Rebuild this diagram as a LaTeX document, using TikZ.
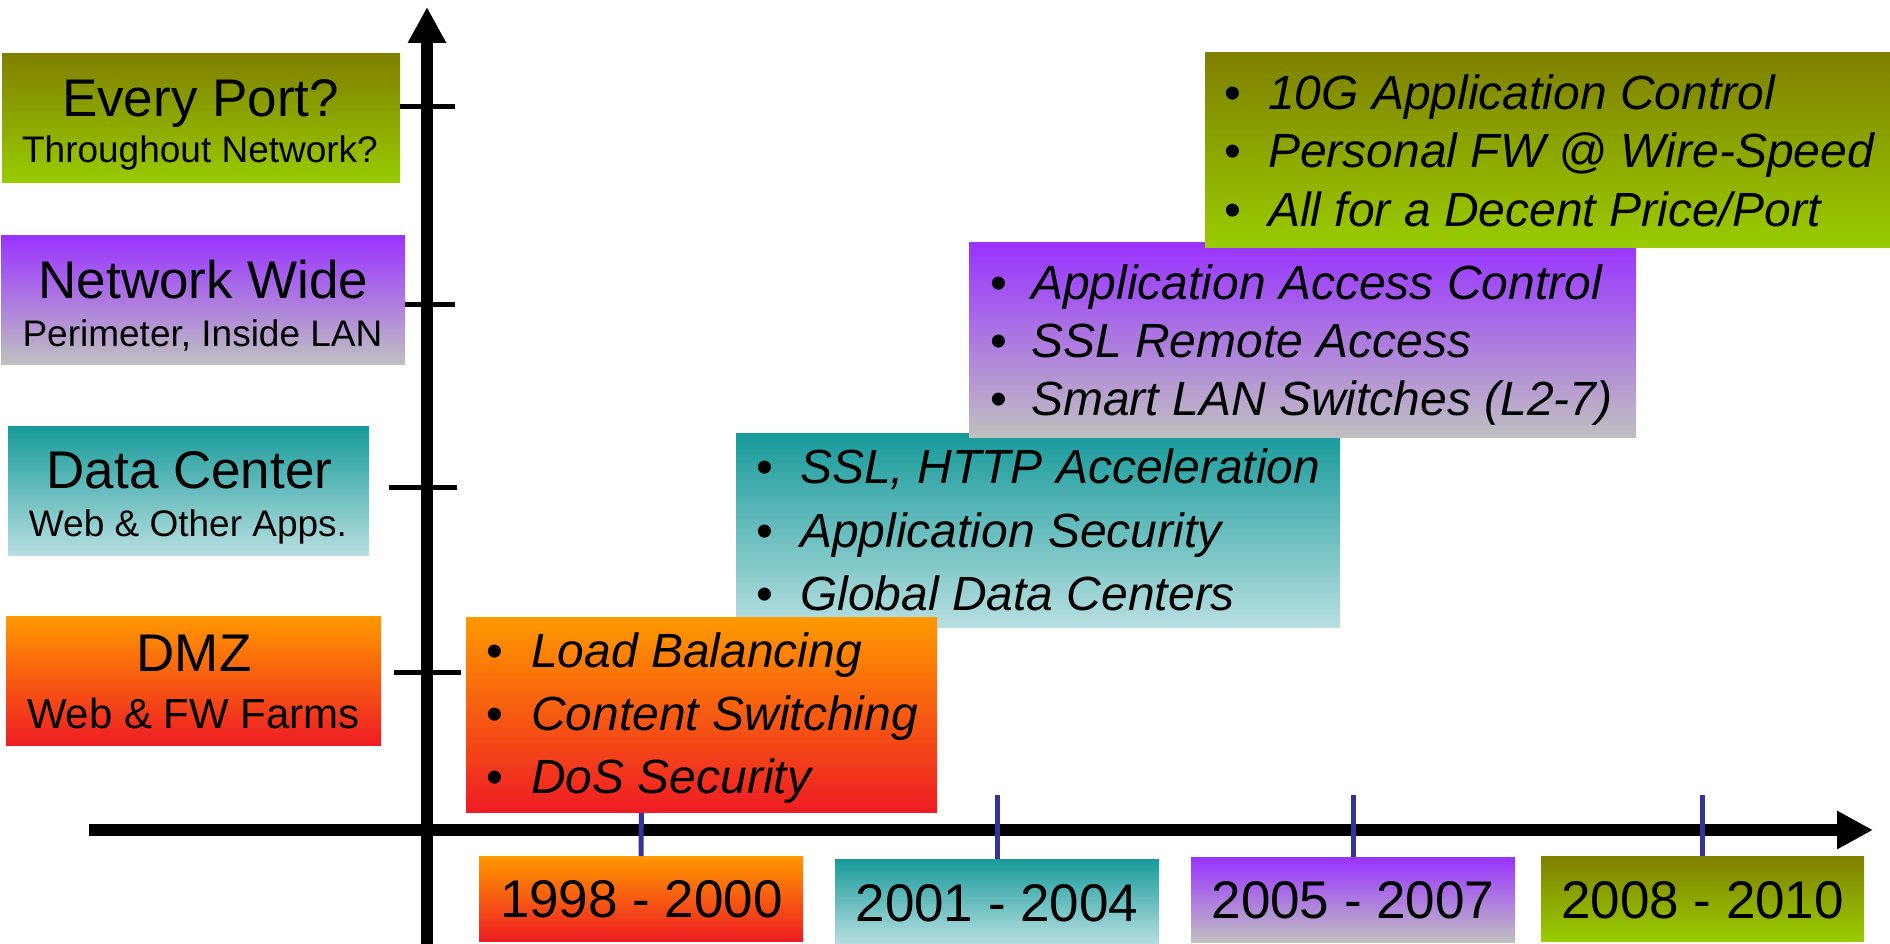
\documentclass[tikz,border=0pt]{standalone}
\usepackage{fontspec}
\setmainfont{Liberation Sans}
\usetikzlibrary{arrows.meta}

\definecolor{oliveTop}{HTML}{808000}
\definecolor{oliveBot}{HTML}{99CC00}
\definecolor{violetTop}{HTML}{9933FF}
\definecolor{violetBot}{HTML}{C0C0C0}
\definecolor{tealTop}{HTML}{189A9A}
\definecolor{tealBot}{HTML}{B8DFE1}
\definecolor{orangeTop}{HTML}{FF9900}
\definecolor{orangeBot}{HTML}{EE1C24}
\definecolor{tickBlue}{HTML}{333399}

\begin{document}
\begin{tikzpicture}[x=1pt,y=-1pt,
  panel/.style={rectangle, inner sep=0pt, outer sep=0pt, anchor=north west},
  olivefill/.style={top color=oliveTop, bottom color=oliveBot},
  violetfill/.style={top color=violetTop, bottom color=violetBot},
  tealfill/.style={top color=tealTop, bottom color=tealBot},
  orangefill/.style={top color=orangeTop, bottom color=orangeBot},
  head/.style={inner sep=0pt, anchor=base, font=\fontsize{53}{60}\selectfont},
  sub/.style={inner sep=0pt, anchor=base, font=\fontsize{37}{44}\selectfont},
  yearlbl/.style={inner sep=0pt, anchor=base, font=\fontsize{53}{60}\selectfont},
  dotlbl/.style={inner sep=0pt, anchor=base, font=\fontsize{48}{56}\selectfont},
  itemlbl/.style={inner sep=0pt, anchor=base west, font=\fontsize{48}{56}\selectfont\itshape},
  axis/.style={line width=12pt, draw=black},
  vtick/.style={line width=5pt, draw=black},
  ytick/.style={line width=5pt, draw=tickBlue},
]
\useasboundingbox (0,0) rectangle (1890,944);

% ---- scope labels on the left ----
\node[panel, olivefill, minimum width=398pt, minimum height=129pt] (every) at (2,54) {};
\node[panel, violetfill, minimum width=404pt, minimum height=128pt] (netw) at (1,236) {};
\node[panel, tealfill, minimum width=361pt, minimum height=129pt] (datac) at (8,426) {};
\node[panel, orangefill, minimum width=375pt, minimum height=129pt] (dmz) at (6,616) {};

\node[head] (everyT) at (200.5,117) {Every Port?};
\node[sub]  (everyS) at (200,163) {Throughout Network?};
\node[head] (netwT) at (203.5,298) {Network Wide};
\node[sub]  (netwS) at (202.5,346) {Perimeter, Inside LAN};
\node[head] (datacT) at (189.5,488) {Data Center};
\node[sub]  (datacS) at (188,536.5) {Web \& Other Apps.};
\node[head] (dmzT) at (194,671) {DMZ};
\node[sub, font=\fontsize{42}{50}\selectfont] (dmzS) at (193.5,728) {Web \& FW Farms};

% ---- period labels along the time axis ----
\node[panel, orangefill, minimum width=324pt, minimum height=85pt] (y1) at (479,856) {};
\node[panel, tealfill, minimum width=324pt, minimum height=85pt] (y2) at (835,859) {};
\node[panel, violetfill, minimum width=324pt, minimum height=85pt] (y3) at (1191,857) {};
\node[panel, olivefill, minimum width=323pt, minimum height=85pt] (y4) at (1541,856) {};

\node[yearlbl] (y1T) at (641.5,917) {1998 - 2000};
\node[yearlbl] (y2T) at (997,921) {2001 - 2004};
\node[yearlbl] (y3T) at (1353,918) {2005 - 2007};
\node[yearlbl] (y4T) at (1702.5,918) {2008 - 2010};

% ---- axes ----
\coordinate (vbot) at (427,944);
\coordinate (vtop) at (427,7);
\coordinate (hleft) at (89,830);
\coordinate (hright) at (1873,830);
\draw[axis, -{Triangle[length=36pt,width=36pt]}] (vbot) -- (vtop);
\draw[axis, -{Triangle[length=36pt,width=36pt]}] (hleft) -- (hright);

% marks on the vertical axis
\draw[vtick] (400,107) -- (455,107);
\draw[vtick] (405,304) -- (455,304);
\draw[vtick] (389,487) -- (457,487);
\draw[vtick] (394,672) -- (461,672);

% marks on the time axis
\coordinate (m1) at (641.5,795);
\coordinate (m2) at (997,795);
\coordinate (m3) at (1353,795);
\coordinate (m4) at (1702.5,795);
\draw[ytick] (y1.north) -- (m1);
\draw[ytick] (y2.north) -- (m2);
\draw[ytick] (y3.north) -- (m3);
\draw[ytick] (y4.north) -- (m4);

% ---- feature panels ----
\node[panel, tealfill, minimum width=604pt, minimum height=194pt] (tealbox) at (736,433) {};
\foreach \s [count=\i] in {{SSL, HTTP Acceleration},{Application Security},{Global Data Centers}} {
  \node[dotlbl] (tealdot\i) at (764.5,{483.5+63.5*(\i-1)}) {•};
  \node[itemlbl] (tealtxt\i) at (800,{483.5+63.5*(\i-1)}) {\s};
}

\node[panel, orangefill, minimum width=471pt, minimum height=195pt] (orangebox) at (466,617) {};
\foreach \s [count=\i] in {{Load Balancing},{Content Switching},{DoS Security}} {
  \node[dotlbl] (orangedot\i) at (494.5,{667+63*(\i-1)}) {•};
  \node[itemlbl] (orangetxt\i) at (531,{667+63*(\i-1)}) {\s};
}

\node[panel, violetfill, minimum width=667pt, minimum height=194pt] (violetbox) at (969,243) {};
\foreach \s [count=\i] in {{Application Access Control},{SSL Remote Access},{Smart LAN Switches (L2-7)}} {
  \node[dotlbl] (violetdot\i) at (998.5,{299+58*(\i-1)}) {•};
  \node[itemlbl] (violettxt\i) at (1031,{299+58*(\i-1)}) {\s};
}

\node[panel, olivefill, minimum width=685pt, minimum height=194pt] (olivebox) at (1205,53) {};
\foreach \s [count=\i] in {{10G Application Control},{Personal FW @ Wire-Speed},{All for a Decent Price/Port}} {
  \node[dotlbl] (olivedot\i) at (1232.5,{110+58*(\i-1)}) {•};
  \node[itemlbl] (olivetxt\i) at (1268,{110+58*(\i-1)}) {\s};
}
\end{tikzpicture}
\end{document}
